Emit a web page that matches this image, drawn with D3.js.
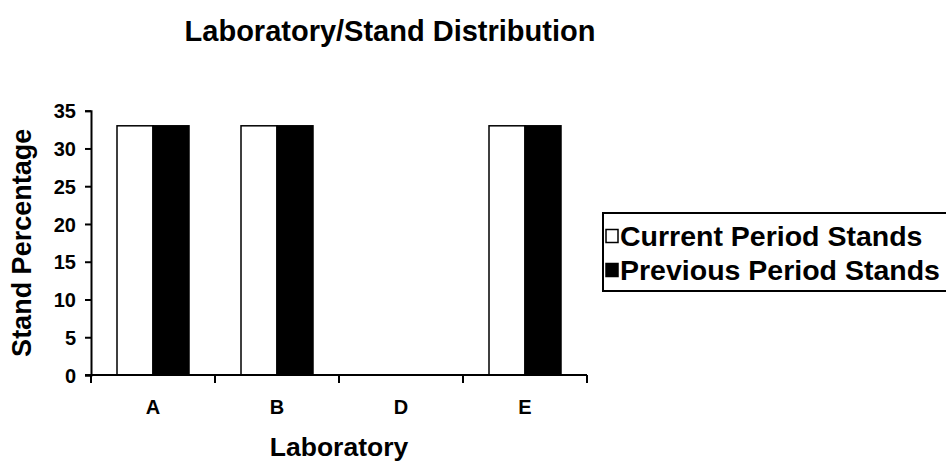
<html>
<head>
<script src="https://d3js.org/d3.v7.min.js"></script>
<style>
body { margin: 0; background: #fff; }
text { font-family: "Liberation Sans", Arial, sans-serif; font-weight: bold; fill: #000; }
</style>
</head>
<body>
<div id="chart"></div>
<script>
// chart data
var labs = ["A", "B", "D", "E"];
var currentStands = [33, 33, 0, 33];
var previousStands = [33, 33, 0, 33];
var seriesNames = ["Current Period Stands", "Previous Period Stands"];
var yTicks = [0, 5, 10, 15, 20, 25, 30, 35];

var W = 946, H = 461;
var plot = {left: 91, right: 587, top: 110.7, bottom: 375};

var svg = d3.select("#chart").append("svg")
    .attr("width", W)
    .attr("height", H);

var x = d3.scaleBand().domain(labs).range([plot.left, plot.right]).paddingInner(0).paddingOuter(0);
var inner = d3.scaleBand().domain([0, 1]).range([26, x.bandwidth() - 26]);
var y = d3.scaleLinear().domain([0, 35]).range([plot.bottom, plot.top]);

var rows = labs.map(function(d, i) { return {lab: d, vals: [currentStands[i], previousStands[i]]}; });
var fills = ["#fff", "#000"];

// bars
var g = svg.append("g");
rows.forEach(function(r) {
  r.vals.forEach(function(v, j) {
    if (v <= 0) return;
    g.append("rect")
      .attr("x", x(r.lab) + inner(j))
      .attr("y", y(v))
      .attr("width", inner.bandwidth())
      .attr("height", y(0) - y(v))
      .attr("fill", fills[j])
      .attr("stroke", "#000")
      .attr("stroke-width", 1.5);
  });
});

// y axis
var yAxis = svg.append("g")
  .attr("transform", "translate(" + plot.left + ",0)")
  .call(d3.axisLeft(y).tickValues(yTicks).tickSize(6).tickPadding(9));
yAxis.select(".domain").attr("stroke-width", 2);
yAxis.selectAll(".tick line").attr("stroke-width", 2);
yAxis.selectAll("text").style("font-size", "20px").attr("font-family", null).attr("dy", "0.36em");

// x axis, ticks at band edges
var xAxis = svg.append("g")
  .attr("transform", "translate(0," + plot.bottom + ")");
xAxis.append("line")
  .attr("x1", plot.left - 6).attr("x2", plot.right)
  .attr("stroke", "#000").attr("stroke-width", 2);
var edges = labs.map(function(d) { return x(d); }).concat([plot.right]);
xAxis.selectAll(".edge").data(edges).enter().append("line")
  .attr("x1", function(d) { return d; }).attr("x2", function(d) { return d; })
  .attr("y1", 0).attr("y2", 8)
  .attr("stroke", "#000").attr("stroke-width", 2);
xAxis.selectAll(".lab").data(labs).enter().append("text")
  .attr("x", function(d) { return x(d) + x.bandwidth() / 2; })
  .attr("y", 39)
  .attr("text-anchor", "middle")
  .style("font-size", "20px")
  .text(function(d) { return d; });

// titles
svg.append("text")
  .attr("x", 390).attr("y", 41)
  .attr("text-anchor", "middle")
  .style("font-size", "29px")
  .text("Laboratory/Stand Distribution");

svg.append("text")
  .attr("x", (plot.left + plot.right) / 2).attr("y", 456)
  .attr("text-anchor", "middle")
  .style("font-size", "26.5px")
  .text("Laboratory");

svg.append("text")
  .attr("transform", "translate(31," + (plot.top + plot.bottom) / 2 + ") rotate(-90)")
  .attr("text-anchor", "middle")
  .style("font-size", "27px")
  .text("Stand Percentage");

// legend
var leg = svg.append("g");
leg.append("rect")
  .attr("x", 603).attr("y", 213)
  .attr("width", 360).attr("height", 78)
  .attr("fill", "#fff").attr("stroke", "#000").attr("stroke-width", 2);
seriesNames.forEach(function(name, i) {
  var cy = 236 + i * 34;
  leg.append("rect")
    .attr("x", 606).attr("y", cy - 6.5)
    .attr("width", 12).attr("height", 13)
    .attr("fill", fills[i]).attr("stroke", "#000").attr("stroke-width", 1.5);
  leg.append("text")
    .attr("x", 620).attr("y", cy + 10)
    .style("font-size", "28.5px")
    .text(name);
});
</script>
</body>
</html>
